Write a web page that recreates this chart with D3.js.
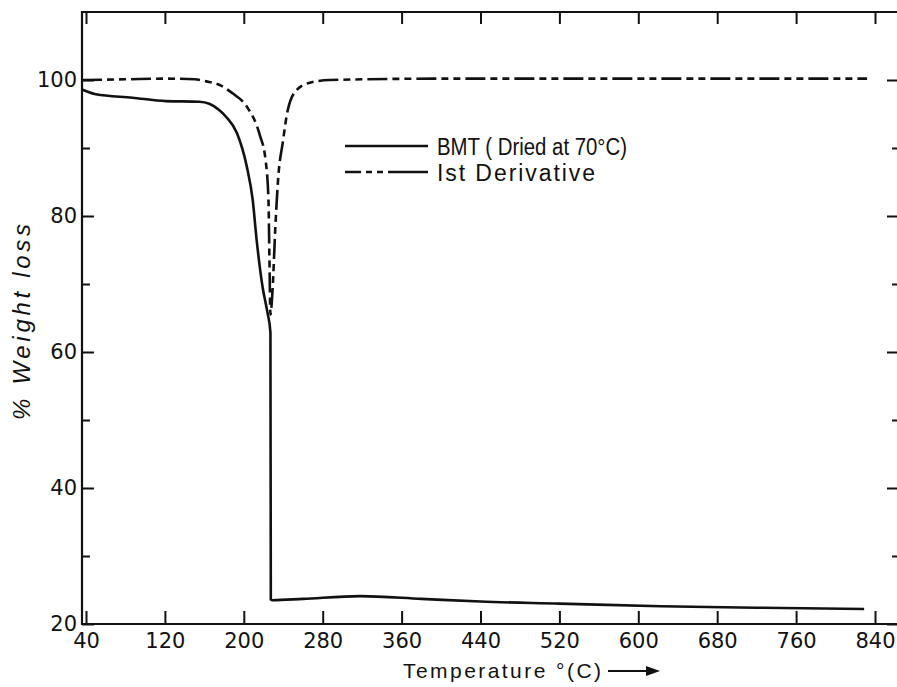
<!DOCTYPE html>
<html>
<head>
<meta charset="utf-8">
<script src="https://cdn.jsdelivr.net/npm/d3@7"></script>
<style>
  body { margin: 0; background: #fff; }
  svg { display: block; }
  .tick-label { font-family: 'DejaVu Sans', sans-serif; font-size: 21px; fill: #111; }
  .caption { font-family: 'Liberation Sans', sans-serif; fill: #111; }
</style>
</head>
<body>
<div id="chart"></div>
<script>
// BMT weight loss curve (temperature, % weight)
const bmtTemp = [36, 50, 87, 121, 155, 165, 175, 182, 193, 203, 209, 213, 219, 224, 227, 227.4, 229, 260, 318, 380, 440, 520, 623, 720, 829];
const bmtWeight = [98.6, 97.9, 97.4, 96.9, 96.8, 96.5, 95.6, 94.6, 92.2, 87.3, 82.4, 76.5, 69.6, 65.8, 62.9, 23.6, 23.5, 23.7, 24.1, 23.7, 23.3, 23.0, 22.6, 22.4, 22.2];

// 1st derivative trace, drawn on the same axes
const derivTemp = [36, 80, 120, 150, 162, 175, 189, 203, 216, 222, 225, 226, 227, 229, 232, 235, 239.5, 244.6, 254, 267, 287, 400, 560, 720, 832];
const derivValue = [100.0, 100.1, 100.2, 100.1, 99.8, 99.3, 98.0, 96.1, 92.0, 88.3, 82.4, 73.6, 65.5, 68.7, 78.4, 85.8, 90.8, 95.6, 98.6, 99.6, 100.0, 100.2, 100.2, 100.2, 100.2];

const xTicks = [40, 120, 200, 280, 360, 440, 520, 600, 680, 760, 840];
const yTicks = [20, 40, 60, 80, 100];
const yMinorTicks = [30, 50, 70, 90];

const legendLabels = ['BMT ( Dried at 70°C)', 'Ist Derivative'];
const xTitle = 'Temperature °(C)';
const yTitle = '% Weight loss';

const width = 897;
const height = 687;
const frame = {left: 82, right: 897, top: 12, bottom: 624};

const svg = d3.select('#chart')
  .append('svg')
  .attr('width', width)
  .attr('height', height);

const xCoord = d3.scaleLinear().domain([40, 840]).range([86, 875]);
const yCoord = d3.scaleLinear().domain([20, 110]).range([frame.bottom, frame.top]);

// frame lines (right side is cut off in the original)
svg.append('path')
  .attr('d', 'M' + frame.right + ',' + frame.top + 'H' + frame.left + 'V' + frame.bottom + 'H' + frame.right)
  .attr('fill', 'none')
  .attr('stroke', '#111')
  .attr('stroke-width', 2.2);

function styleAxis(g) {
  g.select('.domain').remove();
  g.selectAll('.tick line').attr('stroke', '#111').attr('stroke-width', 2);
  g.selectAll('.tick text').attr('class', 'tick-label').attr('fill', null);
}

// bottom axis, ticks pointing in
svg.append('g')
  .attr('transform', 'translate(0,' + frame.bottom + ')')
  .call(d3.axisBottom(xCoord).tickValues(xTicks).tickSize(-13).tickPadding(9))
  .call(styleAxis);

// top axis
svg.append('g')
  .attr('transform', 'translate(0,' + frame.top + ')')
  .call(d3.axisTop(xCoord).tickValues(xTicks).tickSize(-12).tickFormat(''))
  .call(styleAxis);

// left axis
svg.append('g')
  .attr('transform', 'translate(' + frame.left + ',0)')
  .call(d3.axisLeft(yCoord).tickValues(yTicks).tickSize(-12).tickPadding(5))
  .call(styleAxis);

svg.append('g')
  .attr('transform', 'translate(' + frame.left + ',0)')
  .call(d3.axisLeft(yCoord).tickValues(yMinorTicks).tickSize(-8).tickFormat(''))
  .call(styleAxis);

// right side ticks only
svg.append('g')
  .attr('transform', 'translate(' + frame.right + ',0)')
  .call(d3.axisRight(yCoord).tickValues(yTicks).tickSize(-10).tickFormat(''))
  .call(styleAxis);

svg.append('g')
  .attr('transform', 'translate(' + frame.right + ',0)')
  .call(d3.axisRight(yCoord).tickValues(yMinorTicks).tickSize(-5).tickFormat(''))
  .call(styleAxis);

const drawLine = d3.line()
  .x(d => xCoord(d[0]))
  .y(d => yCoord(d[1]))
  .curve(d3.curveMonotoneX);

const dashPattern = '20,5,7,5,7,5';

svg.append('path')
  .datum(derivTemp.map((t, i) => [t, derivValue[i]]))
  .attr('d', drawLine)
  .attr('fill', 'none')
  .attr('stroke', '#111')
  .attr('stroke-width', 2.6)
  .attr('stroke-dasharray', dashPattern);

svg.append('path')
  .datum(bmtTemp.map((t, i) => [t, bmtWeight[i]]))
  .attr('d', drawLine)
  .attr('fill', 'none')
  .attr('stroke', '#111')
  .attr('stroke-width', 2.6);

// legend
const legend = svg.append('g').attr('transform', 'translate(345,0)');
legend.append('line')
  .attr('x1', 0).attr('x2', 83).attr('y1', 146).attr('y2', 146)
  .attr('stroke', '#111').attr('stroke-width', 2.4);
legend.append('line')
  .attr('x1', 0).attr('x2', 83).attr('y1', 172).attr('y2', 172)
  .attr('stroke', '#111').attr('stroke-width', 2.4)
  .attr('stroke-dasharray', '16,5,6,5,6,5,40');
legend.append('text')
  .attr('class', 'caption')
  .attr('x', 92).attr('y', 155)
  .attr('font-size', 23)
  .attr('textLength', 190)
  .attr('lengthAdjust', 'spacingAndGlyphs')
  .text(legendLabels[0]);
legend.append('text')
  .attr('class', 'caption')
  .attr('x', 92).attr('y', 181)
  .attr('font-size', 23)
  .attr('textLength', 158)
  .attr('lengthAdjust', 'spacing')
  .text(legendLabels[1]);

// axis titles
svg.append('text')
  .attr('class', 'caption')
  .attr('transform', 'translate(30,322) rotate(-90)')
  .attr('text-anchor', 'middle')
  .attr('font-size', 24)
  .attr('font-style', 'italic')
  .attr('textLength', 196)
  .attr('lengthAdjust', 'spacing')
  .text(yTitle);

svg.append('text')
  .attr('class', 'caption')
  .attr('x', 403).attr('y', 678)
  .attr('font-size', 21)
  .attr('textLength', 198)
  .attr('lengthAdjust', 'spacing')
  .text(xTitle);

svg.append('line')
  .attr('x1', 608).attr('x2', 648).attr('y1', 671).attr('y2', 671)
  .attr('stroke', '#111').attr('stroke-width', 2);
svg.append('path')
  .attr('d', 'M646,666L660,671L646,676Z')
  .attr('fill', '#111');
</script>
</body>
</html>
